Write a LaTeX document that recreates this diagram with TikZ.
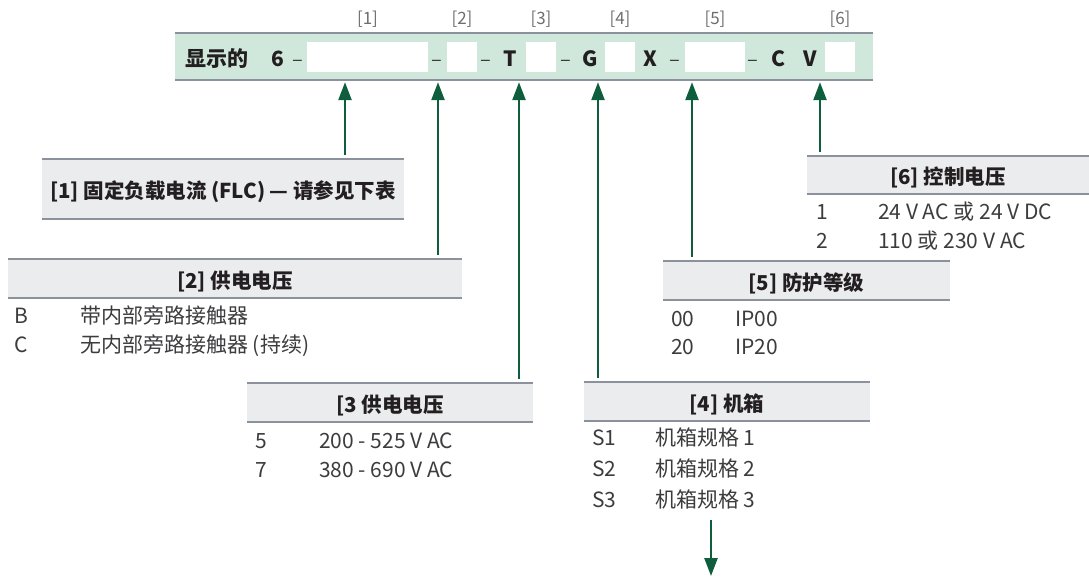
\documentclass[tikz,border=0pt]{standalone}
\usepackage{fontspec}
\setmainfont{Noto Sans CJK SC}
\usetikzlibrary{arrows.meta}

\definecolor{bandgreen}{HTML}{CFE8DB}
\definecolor{headgray}{HTML}{EBECEE}
\definecolor{rulegray}{HTML}{8C929C}
\definecolor{arrowgreen}{HTML}{0E5E3E}
\definecolor{textdark}{HTML}{231F20}
\definecolor{textsoft}{HTML}{3C3C3E}
\definecolor{taggray}{HTML}{6D6E71}

\tikzset{
  slot/.style={fill=white, minimum width=30pt, minimum height=30pt, inner sep=0pt},
  head/.style={fill=headgray, inner sep=0pt, text height=19pt, text depth=0pt,
    font=\bfseries\fontsize{20.5}{24}\selectfont, text=textdark},
  rule/.style={rulegray, line width=2pt},
  pointer/.style={arrowgreen, line width=2.5pt, -{Triangle[length=18pt,width=13pt]}},
  cell/.style={anchor=base west, inner sep=0pt, font=\fontsize{21}{24}\selectfont, text=textsoft},
  tag/.style={anchor=base, inner sep=0pt, font=\fontsize{17}{20}\selectfont, text=taggray},
  code/.style={anchor=base, inner sep=0pt, font=\bfseries\fontsize{21}{24}\selectfont, text=textdark},
  sep/.style={anchor=base, inner sep=0pt, font=\fontsize{20}{24}\selectfont, text=textsoft}
}

\begin{document}
\begin{tikzpicture}[x=1pt, y=-1pt]
  \useasboundingbox (0,0) rectangle (1089,576);

  % Ordering code band
  \node[fill=bandgreen, minimum width=698pt, minimum height=47pt, inner sep=0pt] (band) at (524,56.5) {};
  \draw[rule] (band.north west) -- (band.north east);
  \draw[rule] (band.south west) -- (band.south east);

  \node[code] (disp) at (217,66) {显示的};
  \foreach \x/\c in {278/6, 510/T, 590/G, 650/X, 778/C, 810/V}
    \node[code] (c\c) at (\x,66) {\c};
  \foreach \x [count=\i] in {297.5, 437, 486, 566, 675, 753}
    \node[sep] (d\i) at (\x,66) {–};

  % Empty slots with their index above
  \node[slot, minimum width=121pt] (s1) at (367.5,56.7) {};
  \node[slot] (s2) at (462,56.7) {};
  \node[slot] (s3) at (541,56.7) {};
  \node[slot] (s4) at (620,56.7) {};
  \node[slot, minimum width=60pt] (s5) at (715,56.7) {};
  \node[slot] (s6) at (840,56.7) {};
  \foreach \i in {1,...,6}
    \node[tag] (l\i) at (s\i.center |- 0,24) {[\i]};

  % Option tables
  \node[head, minimum width=362pt, minimum height=60pt] (h1) at (223,189) {[1] 固定负载电流 (FLC) — 请参见下表};
  \node[head, minimum width=454pt, minimum height=39pt] (h2) at (235,278.5) {[2] 供电电压};
  \node[head, minimum width=286pt, minimum height=39pt] (h3) at (390,402.5) {[3 供电电压};
  \node[head, minimum width=286pt, minimum height=39pt] (h4) at (727,401.5) {[4] 机箱};
  \node[head, minimum width=287pt, minimum height=39pt] (h5) at (806.5,280.5) {[5] 防护等级};
  \node[head, minimum width=282pt, minimum height=38pt] (h6) at (948,175) {[6] 控制电压};
  \foreach \h in {h1,h2,h3,h4,h5,h6} {
    \draw[rule] (\h.north west) -- (\h.north east);
    \draw[rule] (\h.south west) -- (\h.south east);
  }

  \foreach \y/\k/\v in {323/B/带内部旁路接触器, 352/C/{无内部旁路接触器 (持续)}} {
    \node[cell] (b\k) at (14,\y) {\k};
    \node[cell] at (80,\y) {\v};
  }
  \foreach \y/\k/\v in {448/5/200 - 525 V AC, 477/7/380 - 690 V AC} {
    \node[cell] (v\k) at (255,\y) {\k};
    \node[cell] at (319,\y) {\v};
  }
  \foreach \y/\k in {445/1, 476/2, 507/3} {
    \node[cell] (f\k) at (592,\y) {S\k};
    \node[cell] at (655,\y) {机箱规格 \k};
  }
  \foreach \y/\k in {326/00, 354/20} {
    \node[cell] (p\k) at (671,\y) {\k};
    \node[cell] at (735,\y) {IP\k};
  }
  \foreach \y/\k/\v in {219/1/24 V AC 或 24 V DC, 248/2/110 或 230 V AC} {
    \node[cell] (u\k) at (816,\y) {\k};
    \node[cell] at (878,\y) {\v};
  }

  % Pointers up to the band
  \foreach \h/\x in {h1/345, h2/438, h3/519, h4/598, h5/692, h6/820}
    \draw[pointer] ([yshift=4pt]\h.north -| \x,0) -- ([yshift=-2pt]band.south -| \x,0);

  % Continues below
  \coordinate (more) at (711,520);
  \coordinate (moreEnd) at (711,576);
  \draw[pointer] (more) -- (moreEnd);
\end{tikzpicture}
\end{document}
